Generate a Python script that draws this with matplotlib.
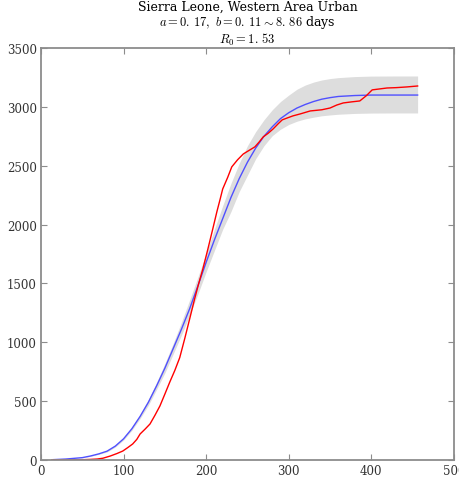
import matplotlib
matplotlib.use("Agg")
import matplotlib.pyplot as plt

# model fit
x_fit = [15, 30, 50, 60, 70, 80, 90, 100, 110, 120, 130, 140, 150, 160, 170,
         180, 190, 200, 210, 220, 230, 240, 250, 260, 270, 280, 290, 300,
         310, 320, 330, 340, 350, 360, 380, 400, 430, 456]
y_fit = [3, 8, 20, 34, 52, 75, 118, 180, 265, 370, 490, 630, 780, 945, 1110,
         1285, 1480, 1680, 1870, 2050, 2230, 2390, 2530, 2650, 2750, 2830,
         2900, 2950, 2990, 3020, 3045, 3065, 3078, 3088, 3096, 3100, 3100, 3100]
y_upper = [3, 9, 22, 36, 56, 82, 125, 190, 278, 388, 515, 660, 820, 990, 1170,
           1360, 1555, 1755, 1960, 2160, 2350, 2520, 2670, 2790, 2890, 2975,
           3045, 3100, 3150, 3185, 3210, 3228, 3240, 3248, 3257, 3261, 3262,
           3262]
y_lower = [2, 7, 18, 31, 48, 68, 110, 170, 252, 352, 465, 600, 740, 900, 1060,
           1230, 1410, 1600, 1780, 1960, 2110, 2280, 2420, 2560, 2670, 2755,
           2810, 2850, 2878, 2898, 2912, 2924, 2931, 2937, 2944, 2947, 2948,
           2948]

# reported cumulative cases
x_obs = [13, 30, 45, 60, 68, 75, 84, 92, 99, 105, 111, 116, 120, 126, 132, 138,
         144, 150, 156, 162, 168, 174, 180, 186, 191, 196, 202, 208, 213, 217,
         220, 226, 231, 238, 245, 252, 259, 264, 269, 275, 281, 287, 292, 298,
         305, 314, 326, 340, 350, 358, 366, 376, 386, 394, 401, 410, 419, 430,
         443, 456]
y_obs = [0, 0, 1, 5, 8, 15, 34, 55, 76, 105, 136, 175, 221, 262, 306, 380, 459,
         560, 663, 760, 870, 1030, 1198, 1368, 1500, 1623, 1790, 1963, 2110,
         2218, 2302, 2400, 2490, 2550, 2600, 2630, 2660, 2700, 2744, 2775, 2812,
         2855, 2889, 2905, 2923, 2940, 2965, 2975, 2990, 3015, 3033, 3042, 3050,
         3095, 3144, 3152, 3160, 3163, 3169, 3177]

title_lines = ["Sierra Leone, Western Area Urban",
               "$a=0.\\,17,\\ b=0.\\,11\\sim8.\\,86$ days",
               "$R_0=1.\\,53$"]

plt.rcParams["font.family"] = "DejaVu Serif"
plt.rcParams["mathtext.fontset"] = "cm"
plt.rcParams["font.size"] = 8.5

fig = plt.figure(figsize=(4.59, 4.81), dpi=100)
ax = fig.add_axes([0.0893, 0.0416, 0.8997, 0.8566])

ax.fill_between(x_fit, y_lower, y_upper, color="#dddddd", lw=0)
ax.plot(x_fit, y_fit, color="#5050ff", lw=1.0)
ax.plot(x_obs, y_obs, color="red", lw=1.0)

ax.set_xlim(0, 500)
ax.set_ylim(0, 3500)
ax.set_xticks(range(0, 501, 100))
ax.set_yticks(range(0, 3501, 500))
ax.tick_params(direction="in", length=4, width=0.8, colors="0.55",
               labelcolor="0.2", top=True, right=True, pad=3)
for s in ax.spines.values():
    s.set_color("0.55")
    s.set_linewidth(1.3)

# three title lines placed one by one
for txt, ypos in zip(title_lines, [0.9854, 0.953, 0.917]):
    fig.text(0.539, ypos, txt, ha="center", va="center", fontsize=9)

fig.savefig("out.png", dpi=100)
